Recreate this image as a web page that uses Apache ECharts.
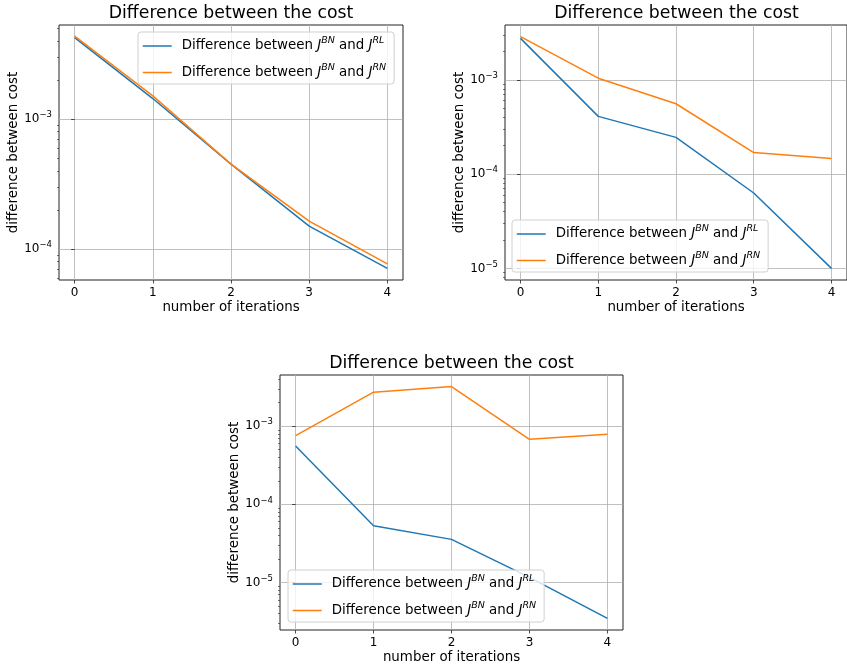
<!DOCTYPE html>
<html>
<head>
<meta charset="utf-8">
<title>Difference between the cost</title>
<script src="https://cdn.jsdelivr.net/npm/echarts@6/dist/echarts.min.js"></script>
<style>
  html, body { margin: 0; padding: 0; background: #fff; }
  #main { width: 847px; height: 668px; }
</style>
</head>
<body>
<div id="main"></div>
<script>
// data
var iterations = [0, 1, 2, 3, 4];
var costRL1 = [4.24e-3, 1.44e-3, 4.5e-4, 1.5e-4, 7.1e-5];
var costRN1 = [4.35e-3, 1.51e-3, 4.5e-4, 1.64e-4, 7.7e-5];
var costRL2 = [2.75e-3, 4.09e-4, 2.45e-4, 6.3e-5, 1.0e-5];
var costRN2 = [2.87e-3, 1.04e-3, 5.57e-4, 1.69e-4, 1.46e-4];
var costRL3 = [5.58e-4, 5.32e-5, 3.56e-5, 1.16e-5, 3.46e-6];
var costRN3 = [7.58e-4, 2.73e-3, 3.22e-3, 6.8e-4, 7.9e-4];

var seriesNames = ['Difference between J^BN and J^RL', 'Difference between J^BN and J^RN'];
var titleText = 'Difference between the cost';
var xName = 'number of iterations';
var yName = 'difference between cost';

// axis ranges and ticks
var xRange = [-0.2, 4.2];
var yRanges = [[5.78e-5, 5.3e-3], [7.53e-6, 3.81e-3], [2.46e-6, 4.53e-3]];
var yMajorTicks = [1e-6, 1e-5, 1e-4, 1e-3, 1e-2];
var minorMantissas = [2, 3, 4, 5, 6, 7, 8, 9];

var colors = ['#1f77b4', '#ff7f0e'];
var FONT = 'DejaVu Sans';

var panels = [
    { left: 59, top: 25, width: 344, height: 255, legend: [138, 32], data: [costRL1, costRN1] },
    { left: 505, top: 25, width: 343, height: 255, legend: [512, 220], data: [costRL2, costRN2] },
    { left: 280, top: 375, width: 343, height: 255, legend: [288, 570], data: [costRL3, costRN3] }
];

var minorTicks = [];
yMajorTicks.forEach(function (d) {
    minorMantissas.forEach(function (m) { minorTicks.push(m * d); });
});

function pairs(ys) {
    return iterations.map(function (x, i) { return [x, ys[i]]; });
}

function legendLabel(name) {
    var m = name.match(/J\^(\w+) and J\^(\w+)/);
    return '{gap|}Difference between {it|J}{sup|' + m[1] + '} and {it|J}{sup|' + m[2] + '}';
}

function expLabel(v) {
    var e = Math.round(Math.log(v) / Math.LN10);
    return '10{sup|\u2212' + (-e) + '}';
}

var chart = echarts.init(document.getElementById('main'));

var option = {
    animation: false,
    textStyle: { fontFamily: FONT },
    grid: [],
    xAxis: [],
    yAxis: [],
    legend: [],
    series: [],
    graphic: []
};

panels.forEach(function (p, i) {
    var yr = yRanges[i];
    option.grid.push({
        left: p.left, top: p.top, width: p.width, height: p.height,
        show: true, borderColor: '#222', borderWidth: 1, backgroundColor: 'transparent'
    });
    option.xAxis.push({
        type: 'value', gridIndex: i, min: xRange[0], max: xRange[1],
        name: xName, nameLocation: 'middle', nameGap: 21,
        nameTextStyle: { fontFamily: FONT, fontSize: 13.4, color: '#000' },
        axisLine: { show: false },
        axisTick: { show: true, length: 3.5, lineStyle: { color: '#222', width: 0.8 }, customValues: iterations },
        axisLabel: { fontFamily: FONT, fontSize: 12, color: '#000', margin: 7, customValues: iterations },
        splitLine: { show: true, lineStyle: { color: '#b0b0b0', width: 0.8 } }
    });
    var majors = yMajorTicks.filter(function (v) { return v >= yr[0] && v <= yr[1]; });
    var minors = minorTicks.filter(function (v) { return v >= yr[0] && v <= yr[1]; });
    option.yAxis.push({
        type: 'log', logBase: 10, gridIndex: i, min: yr[0], max: yr[1],
        name: yName, nameLocation: 'middle', nameGap: 39,
        nameTextStyle: { fontFamily: FONT, fontSize: 13.4, color: '#000' },
        axisLine: { show: false },
        axisTick: { show: true, length: 3.5, lineStyle: { color: '#222', width: 0.8 }, customValues: majors },
        axisLabel: {
            fontFamily: FONT, fontSize: 12, color: '#000', margin: 7, customValues: majors,
            formatter: expLabel,
            rich: { sup: { fontFamily: FONT, fontSize: 8.5, color: '#000', padding: [0, 0, 8, 0] } }
        },
        splitLine: { show: true, lineStyle: { color: '#b0b0b0', width: 0.8 } }
    });
    option.yAxis.push({
        type: 'log', logBase: 10, gridIndex: i, min: yr[0], max: yr[1], position: 'left',
        axisLine: { show: false },
        axisTick: { show: true, length: 2, lineStyle: { color: '#222', width: 0.6 }, customValues: minors },
        axisLabel: { show: false },
        splitLine: { show: false }
    });
    option.legend.push({
        orient: 'vertical', left: p.legend[0], top: p.legend[1],
        data: seriesNames, itemWidth: 29, itemHeight: 14, itemGap: 10,
        padding: [4, 8, 5, 4],
        backgroundColor: 'rgba(255,255,255,0.8)', borderColor: '#d0d0d0', borderWidth: 1, borderRadius: 3,
        selectedMode: false,
        itemStyle: { opacity: 0 },
        lineStyle: { width: 1.5 },
        formatter: legendLabel,
        textStyle: {
            fontFamily: FONT, fontSize: 13.4, color: '#000',
            rich: {
                gap: { width: 5 },
                it: { fontFamily: FONT, fontSize: 13.4, fontStyle: 'italic', color: '#000' },
                sup: { fontFamily: FONT, fontSize: 9.5, fontStyle: 'italic', color: '#000', padding: [0, 0, 10, 0] }
            }
        }
    });
    p.data.forEach(function (ys, k) {
        option.series.push({
            name: seriesNames[k], type: 'line', xAxisIndex: i, yAxisIndex: 2 * i,
            data: pairs(ys), symbol: 'none', color: colors[k],
            lineStyle: { width: 1.5, color: colors[k] }
        });
    });
    option.graphic.push({
        type: 'text', x: p.left + p.width / 2, y: p.top - 11,
        style: { text: titleText, fontFamily: FONT, fontSize: 17.3, fill: '#000', align: 'center', verticalAlign: 'middle' }
    });
});

chart.setOption(option);
</script>
</body>
</html>
